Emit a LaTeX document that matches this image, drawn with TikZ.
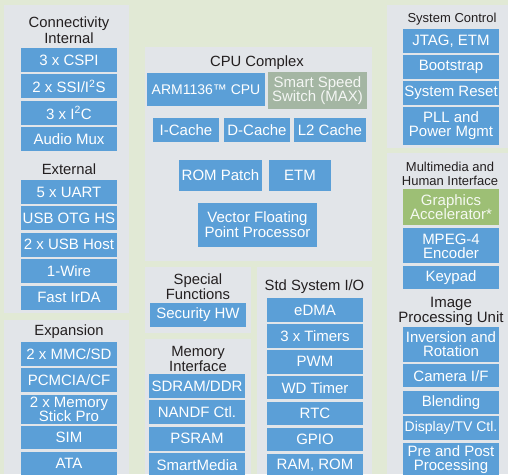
\documentclass[tikz,border=0pt]{standalone}
\usepackage{fontspec}
\setmainfont{Liberation Sans}
\usetikzlibrary{positioning}
\definecolor{bggreen}{HTML}{E1E9D5}
\definecolor{panelgray}{HTML}{E2E5E9}
\definecolor{boxblue}{HTML}{5B9FD7}
\definecolor{maxgray}{HTML}{A4B6A3}
\definecolor{gfxgreen}{HTML}{9DBF75}
\definecolor{ttltext}{HTML}{231F20}
\tikzset{x=1pt,y=-1pt,node distance=2pt,
  blk/.style={fill=boxblue,text=white,inner sep=0pt,align=center,minimum width=96pt,minimum height=24pt,font=\fontsize{15}{14}\selectfont},
  ttl/.style={text=ttltext,inner sep=0pt,align=center,font=\fontsize{14.8}{14.5}\selectfont},
  smallttl/.style={ttl,font=\fontsize{13}{14}\selectfont},
  panel/.style={fill=panelgray}}

\begin{document}
\begin{tikzpicture}
  \fill[bggreen] (0,0) rectangle (508,474);
  \useasboundingbox (0,0) rectangle (508,474);
  \fill[panel] (4,5) rectangle (129,313);
  \fill[panel] (4,320) rectangle (129,474);
  \fill[panel] (145,47) rectangle (372,261);
  \fill[panel] (145,267) rectangle (251,333);
  \fill[panel] (145,339) rectangle (251,474);
  \fill[panel] (257,267) rectangle (372,474);
  \fill[panel] (387,5) rectangle (508,148);
  \fill[panel] (387,153) rectangle (508,474);

  \node[ttl,font=\fontsize{14.8}{16}\selectfont] (conn) at (69,30) {Connectivity\\Internal};
  \node[blk] (cspi) at (69,60) {3 x CSPI};
  \node[blk,below=of cspi] (ssi) {2 x SSI/I\textsuperscript{2}S};
  \node[blk,below=of ssi] (iic) {3 x I\textsuperscript{2}C};
  \node[blk,below=of iic] (amux) {Audio Mux};
  \node[ttl] (ext) at (69,169) {External};
  \node[blk] (uart) at (69,192) {5 x UART};
  \node[blk,below=of uart] (otg) {USB OTG HS};
  \node[blk,below=of otg] (usbh) {2 x USB Host};
  \node[blk,below=of usbh] (wire) {1-Wire};
  \node[blk,below=of wire] (irda) {Fast IrDA};

  \node[ttl] (exp) at (69,332) {Expansion};
  \node[blk] (mmc) at (69,354) {2 x MMC/SD};
  \node[blk,below=of mmc] (pcmcia) {PCMCIA/CF};
  \node[blk,below=of pcmcia,minimum height=29pt] (mstick) {2 x Memory\\Stick Pro};
  \node[blk,below=of mstick,minimum height=23pt] (sim) {SIM};
  \node[blk,below=of sim] (ata) {ATA};

  \node[ttl] (cpu) at (257,63) {CPU Complex};
  \node[blk,minimum width=118pt,minimum height=33pt,font=\fontsize{14}{14}\selectfont] (arm) at (206,89.5) {ARM1136™ CPU};
  \node[blk,fill=maxgray,text=white!88!maxgray,minimum width=99pt,minimum height=37pt] (sss) at (317.5,90.5) {Smart Speed\\Switch (MAX)};
  \node[blk,minimum width=66pt] (icache) at (186,130) {I-Cache};
  \node[blk,minimum width=66pt] (dcache) at (257,130) {D-Cache};
  \node[blk,minimum width=72pt] (ltwo) at (330,130) {L2 Cache};
  \node[blk,minimum width=83pt,minimum height=31pt] (rom) at (220.5,175.5) {ROM Patch};
  \node[blk,minimum width=62pt,minimum height=31pt] (etm) at (300,175.5) {ETM};
  \node[blk,minimum width=119pt,minimum height=44pt,font=\fontsize{15}{13}\selectfont] (vfp) at (257.5,225) {Vector Floating\\Point Processor};

  \node[ttl,font=\fontsize{14.8}{13.5}\selectfont] (spec) at (198,286.5) {Special\\Functions};
  \node[blk] (sec) at (198,315) {Security HW};

  \node[ttl] (mem) at (198,359) {Memory\\Interface};
  \node[blk] (sdram) at (197,386) {SDRAM/DDR};
  \node[blk,below=of sdram] (nandf) {NANDF Ctl.};
  \node[blk,below=of nandf] (psram) {PSRAM};
  \node[blk,below=of psram] (smedia) {SmartMedia};

  \node[ttl] (stdio) at (314.5,287) {Std System I/O};
  \node[blk,minimum height=23.5pt] (edma) at (315,310) {eDMA};
  \node[blk,minimum height=23.5pt,below=of edma] (timers) {3 x Timers};
  \node[blk,minimum height=23.5pt,below=of timers] (pwm) {PWM};
  \node[blk,minimum height=23.5pt,below=of pwm] (wdt) {WD Timer};
  \node[blk,minimum height=23.5pt,below=of wdt] (rtc) {RTC};
  \node[blk,minimum height=23.5pt,below=of rtc] (gpio) {GPIO};
  \node[blk,minimum height=23.5pt,below=of gpio] (ram) {RAM, ROM};

  \node[smallttl] (sysctl) at (452,19) {System Control};
  \node[blk] (jtag) at (451,41) {JTAG, ETM};
  \node[blk,minimum height=23.5pt,below=of jtag] (boot) {Bootstrap};
  \node[blk,minimum height=23.5pt,below=of boot] (reset) {System Reset};
  \node[blk,minimum height=37.5pt,below=of reset] (pll) {PLL and\\Power Mgmt};

  \node[smallttl] (mmhi) at (450,174) {Multimedia and\\Human Interface};
  \node[blk,fill=gfxgreen,text=white!90!gfxgreen,minimum height=36pt] (gfx) at (451,207) {Graphics\\Accelerator*};
  \node[blk,minimum height=35pt,below=3pt of gfx] (mpeg) {MPEG-4\\Encoder};
  \node[blk,minimum height=23pt,below=of mpeg] (keypad) {Keypad};

  \node[ttl,font=\fontsize{15}{13.5}\selectfont] (ipu) at (451,311.5) {Image\\Processing Unit};
  \node[blk,minimum height=35pt] (inv) at (451,344.5) {Inversion and\\Rotation};
  \node[blk,minimum height=23pt,below=of inv] (cam) {Camera I/F};
  \node[blk,minimum height=23pt,below=3pt of cam] (blend) {Blending};
  \node[blk,below=of blend,font=\fontsize{14}{14}\selectfont] (disp) {Display/TV Ctl.};
  \node[blk,minimum height=34pt,below=of disp] (prepost) {Pre and Post\\Processing};
\end{tikzpicture}
\end{document}
